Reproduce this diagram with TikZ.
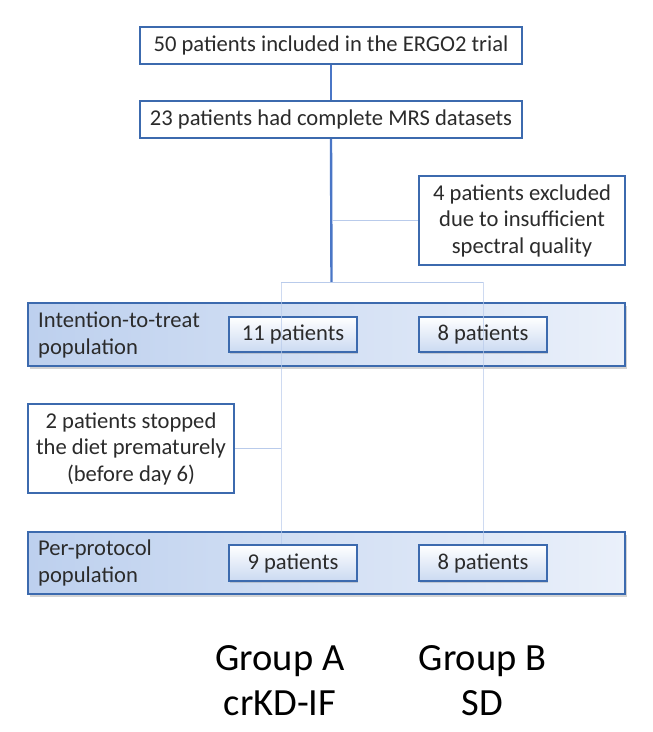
\documentclass[tikz,border=0pt]{standalone}
\usepackage{fontspec}
\setmainfont{Carlito}
\usetikzlibrary{shadows}
\definecolor{boxblue}{HTML}{3C6AAE}
\definecolor{lineblue}{HTML}{4A76C6}
\definecolor{paleblue}{HTML}{B9CBEB}
\definecolor{bandblue}{HTML}{BDD0EE}
\definecolor{bandwhite}{HTML}{EAF0FA}
\definecolor{inkgrey}{HTML}{2B2B2B}
\tikzset{
  textbox/.style={draw=boxblue, line width=2.2pt, fill=white, align=center, text=inkgrey,
    inner sep=0pt, font=\fontsize{22.6}{26.5}\selectfont},
  band/.style={draw=boxblue, line width=2.6pt, left color=bandblue, right color=bandwhite,
    drop shadow={shadow xshift=1.5pt, shadow yshift=-2.5pt, opacity=0.35}},
  patbox/.style={draw=boxblue, line width=2.2pt, top color=white, bottom color=bandblue!80,
    inner sep=0pt, text=inkgrey, font=\fontsize{22.6}{26.5}\selectfont,
    drop shadow={shadow xshift=1pt, shadow yshift=-1.5pt, opacity=0.3}},
  bandlabel/.style={anchor=west, align=left, inner sep=0pt, text=inkgrey,
    font=\fontsize{22.6}{26.5}\selectfont},
  group/.style={align=center, inner sep=0pt, font=\fontsize{38.5}{45}\selectfont},
  mainline/.style={lineblue, line width=2.4pt},
  thinline/.style={paleblue, line width=1pt},
}
\begin{document}
\begin{tikzpicture}[x=1pt, y=-1pt]
    \useasboundingbox (0, 0) rectangle (653, 732);
    % top of the flow
    \node [textbox, minimum width=382, minimum height=37] (trial) at (331, 45.5)
      {50 patients included in the ERGO2 trial};
    \node [textbox, minimum width=382, minimum height=37] (mrs) at (331, 119.5)
      {23 patients had complete MRS datasets};
    \node [textbox, minimum width=206, minimum height=89] (excl) at (522, 220.5)
      {4 patients excluded\\due to insufficient\\spectral quality};
    %
    \coordinate (split) at (331.5, 282);
    \coordinate (splitA) at (281, 282);
    \coordinate (splitB) at (483, 282);
    %
    % intention-to-treat
    \node [band, minimum width=597, minimum height=63] (itt) at (326.5, 334.5) {};
    \node [bandlabel] (ittlabel) at (38, 335) {Intention-to-treat\\population};
    \node [patbox, minimum width=128, minimum height=35] (ittA) at (293, 334.5) {11 patients};
    \node [patbox, minimum width=128, minimum height=35] (ittB) at (483, 334.5) {8 patients};
    %
    \node [textbox, minimum width=206, minimum height=89] (stop) at (131, 448.5)
      {2 patients stopped\\the diet prematurely\\(before day 6)};
    %
    % per-protocol
    \node [band, minimum width=597, minimum height=62] (pp) at (326.5, 563) {};
    \node [bandlabel] (pplabel) at (38, 563) {Per-protocol\\population};
    \node [patbox, minimum width=128, minimum height=36] (ppA) at (293, 563) {9 patients};
    \node [patbox, minimum width=128, minimum height=36] (ppB) at (483, 563) {8 patients};
    %
    % groups
    \node [group] (grpA) at (280, 681) {Group A\\crKD-IF};
    \node [group] (grpB) at (482.5, 681) {Group B\\SD};
    %
    % connectors
    \draw [mainline] (trial.south) -- (mrs.north);
    \draw [mainline] (mrs.south) -- (split);
    \draw [thinline] (excl.west) -- (excl.west -| split);
    \draw [thinline] (splitA) -- (splitB);
    \draw [thinline, opacity=0.7] (splitA) -- (splitA |- ppA.north);
    \draw [thinline, opacity=0.7] (splitB) -- (ppB.north);
    \draw [thinline] (stop.east) -- (stop.east -| splitA);
\end{tikzpicture}
\end{document}
